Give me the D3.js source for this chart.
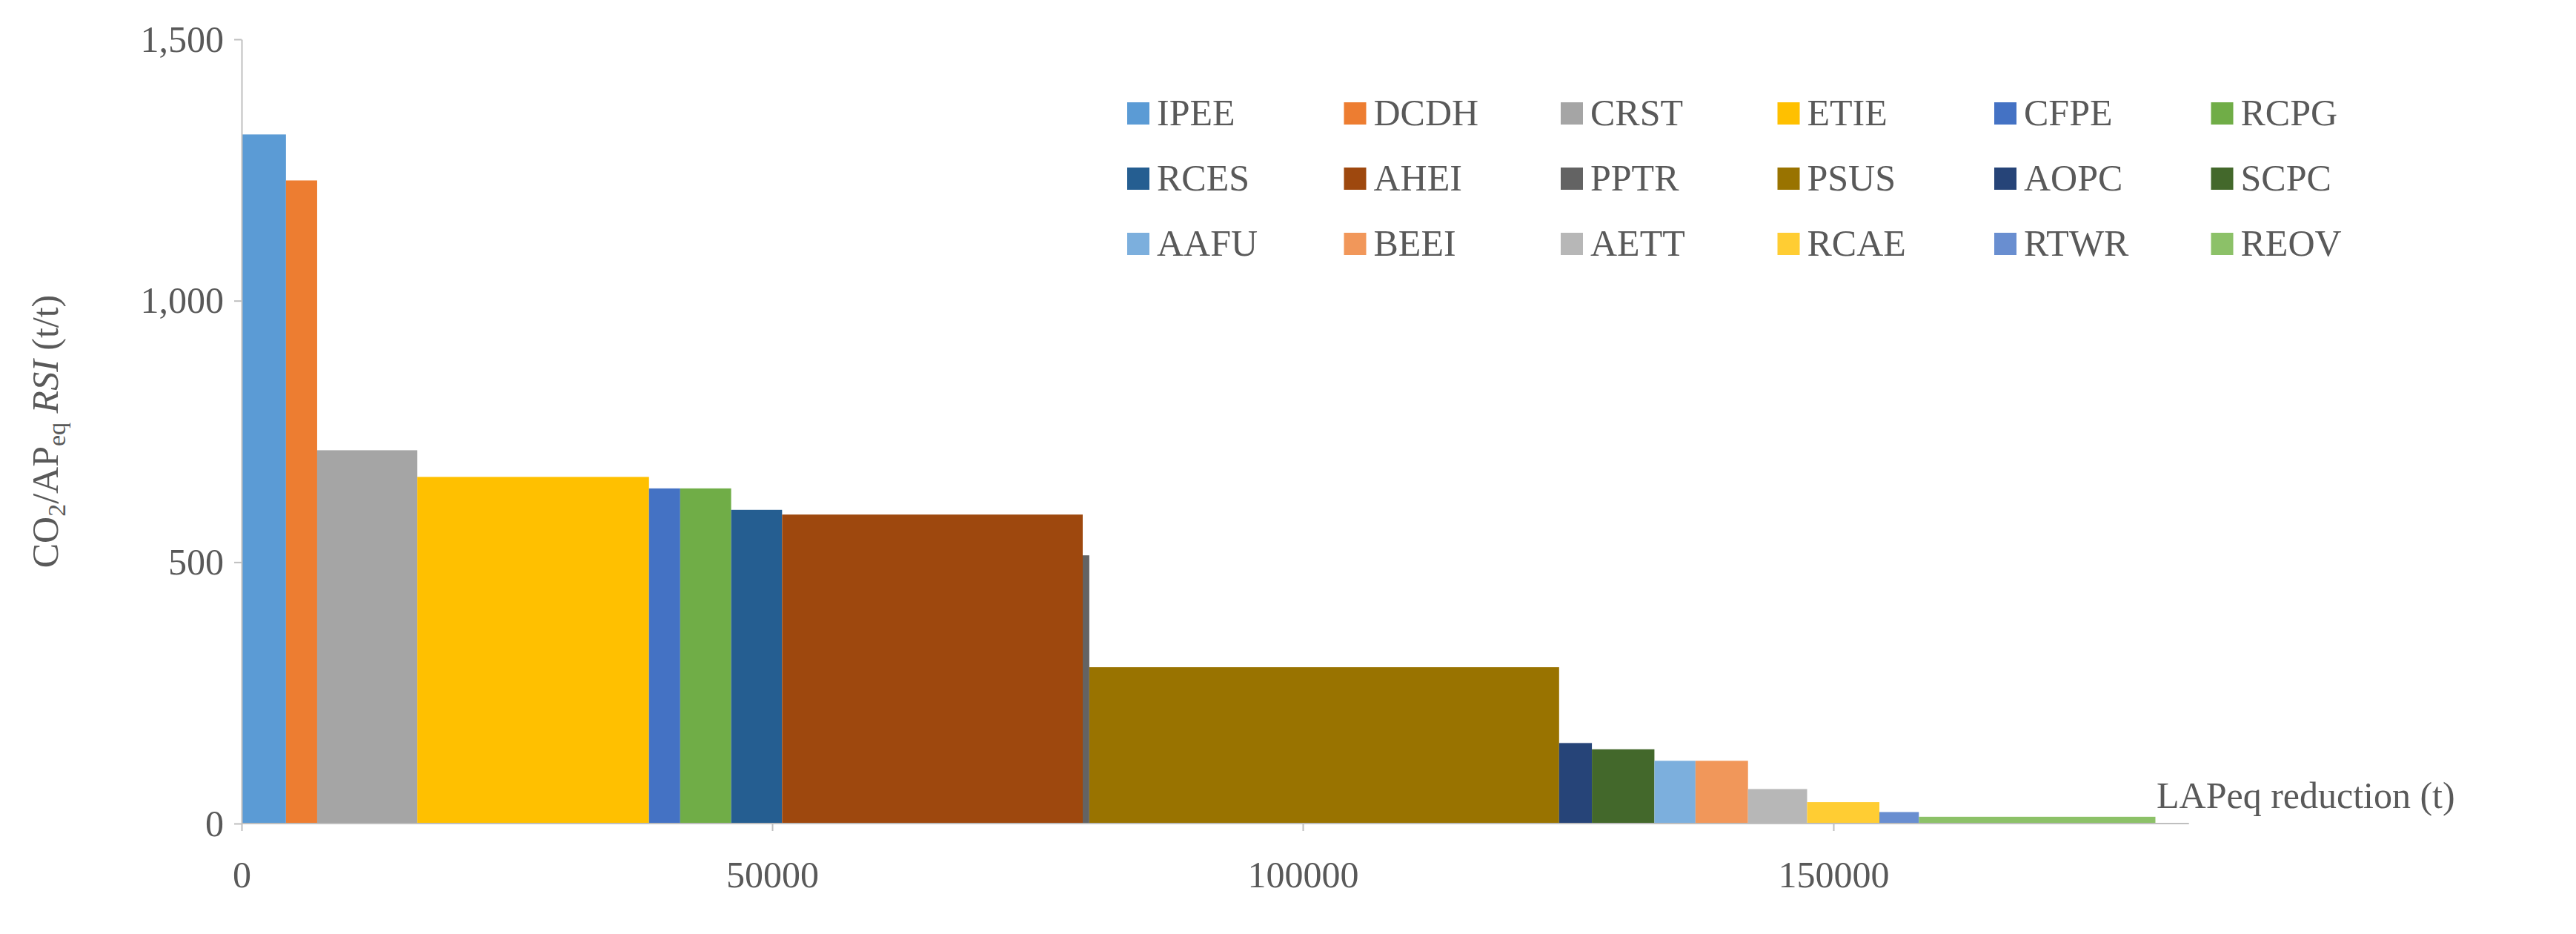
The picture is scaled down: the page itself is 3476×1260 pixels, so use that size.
<!DOCTYPE html>
<html><head><meta charset="utf-8">
<script src="https://cdn.jsdelivr.net/npm/d3@7"></script>
<style>body{margin:0;background:#fff}</style></head>
<body><svg id="c" width="3476" height="1260"></svg>
<script>
const categories=["IPEE","DCDH","CRST","ETIE","CFPE","RCPG","RCES","AHEI","PPTR","PSUS","AOPC","SCPC","AAFU","BEEI","AETT","RCAE","RTWR","REOV"];
const widths=[4180,2940,9440,21830,2940,4800,4800,28330,620,44270,3090,5890,3870,4950,5570,6810,3720,22290];
const values=[1318,1230,714,663,641,641,600,591,513,299,154,142,120,120,66,41,22,13];
const colors=["#5B9BD5","#ED7D31","#A5A5A5","#FFC000","#4472C4","#70AD47","#255E91","#9E480E","#636363","#997300","#264478","#43682B","#7CAFDD","#F1975A","#B7B7B7","#FFCD33","#698ED0","#8CC168"];
const xTicks=[0,50000,100000,150000];
const yTicks=[0,500,1000,1500];

const svg=d3.select("#c");
const font="'Liberation Serif','Times New Roman',serif";
const L=326,B=1111;
const x=d3.scaleLinear().domain([0,50000]).range([L,1042]);
const y=d3.scaleLinear().domain([0,1500]).range([B,53]);
let acc=0;
const data=categories.map((c,i)=>{const d={c,x0:acc,x1:acc+widths[i],v:values[i],col:colors[i]};acc+=widths[i];return d;});
svg.selectAll("rect.bar").data(data).join("rect").attr("class","bar")
 .attr("x",d=>x(d.x0)).attr("width",d=>x(d.x1)-x(d.x0))
 .attr("y",d=>y(d.v)).attr("height",d=>B-y(d.v)).attr("fill",d=>d.col);

// axes
const gx=svg.append("g").attr("transform",`translate(0,${B})`)
 .call(d3.axisBottom(x).tickValues(xTicks).tickFormat(d3.format("d")).tickSize(10).tickPadding(40).tickSizeOuter(0));
gx.select(".domain").attr("d",`M${L},0H${x(183500)}`);
const gy=svg.append("g").attr("transform",`translate(${L},0)`)
 .call(d3.axisLeft(y).tickValues(yTicks).tickSize(10).tickPadding(14).tickSizeOuter(0));
svg.selectAll(".domain,.tick line").attr("stroke","#bfbfbf").attr("stroke-width",2);
svg.selectAll(".tick text").attr("font-family",font).attr("font-size",50).attr("fill","#595959");

// y label
const yl=svg.append("text").attr("transform",`translate(78,${y(750)}) rotate(-90)`)
 .attr("text-anchor","middle").attr("font-family",font).attr("font-size",50).attr("fill","#595959");
yl.append("tspan").text("CO");
yl.append("tspan").attr("font-size",34).attr("dy",10).text("2");
yl.append("tspan").attr("dy",-10).text("/AP");
yl.append("tspan").attr("font-size",34).attr("dy",10).text("eq");
yl.append("tspan").attr("dy",-10).text(" ");
yl.append("tspan").attr("font-style","italic").text("RSI");
yl.append("tspan").text(" (t/t)");

svg.append("text").attr("x",2910).attr("y",1090).attr("font-family",font).attr("font-size",50)
 .attr("fill","#595959").text("LAPeq reduction (t)");

// legend
const lg=svg.append("g");
data.forEach((d,i)=>{
 const col=i%6,row=Math.floor(i/6);
 const lx=1521+col*292.5, ly=155+row*88;
 lg.append("rect").attr("x",lx).attr("y",ly-17).attr("width",30).attr("height",30).attr("fill",d.col);
 lg.append("text").attr("x",lx+40).attr("y",ly+14).attr("font-family",font).attr("font-size",50)
  .attr("fill","#595959").text(d.c);
});
</script></body></html>
